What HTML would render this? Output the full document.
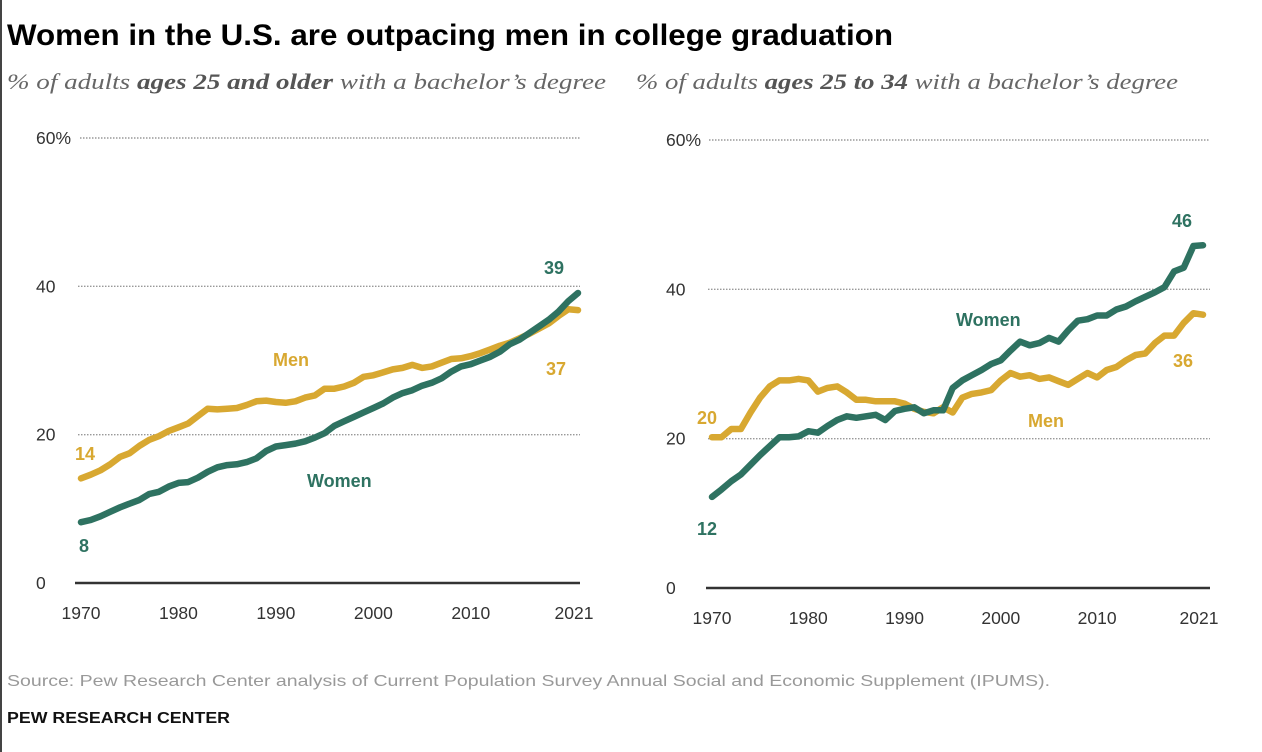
<!DOCTYPE html>
<html><head><meta charset="utf-8"><style>
html,body{margin:0;padding:0;background:#fff;}
body{width:1262px;height:752px;overflow:hidden;position:relative;}
svg{display:block;}
.tick{font-family:"Liberation Sans",sans-serif;font-size:17.5px;fill:#333;}
.lab{font-family:"Liberation Sans",sans-serif;font-size:18px;font-weight:bold;}
</style></head><body>
<svg id="chart" width="1262" height="752" viewBox="0 0 1262 752" xmlns="http://www.w3.org/2000/svg">
<line x1="1" y1="0" x2="1" y2="752" stroke="#444" stroke-width="2"/>
<text x="7" y="45" font-family="'Liberation Sans',sans-serif" font-weight="bold" font-size="30" fill="#000" textLength="886" lengthAdjust="spacingAndGlyphs">Women in the U.S. are outpacing men in college graduation</text>
<text x="7" y="89" font-family="'Liberation Serif',serif" font-style="italic" font-size="22" fill="#666" textLength="599" lengthAdjust="spacingAndGlyphs">% of adults <tspan font-weight="bold" fill="#555">ages 25 and older</tspan> with a bachelor’s degree</text>
<text x="636" y="89" font-family="'Liberation Serif',serif" font-style="italic" font-size="22" fill="#666" textLength="542" lengthAdjust="spacingAndGlyphs">% of adults <tspan font-weight="bold" fill="#555">ages 25 to 34</tspan> with a bachelor’s degree</text>
<g id="left"></g>
<g id="right"></g>
<text x="7" y="686" font-family="'Liberation Sans',sans-serif" font-size="16" fill="#999" textLength="1043" lengthAdjust="spacingAndGlyphs">Source: Pew Research Center analysis of Current Population Survey Annual Social and Economic Supplement (IPUMS).</text>
<text x="7" y="723" font-family="'Liberation Sans',sans-serif" font-weight="bold" font-size="16" fill="#111" textLength="223" lengthAdjust="spacingAndGlyphs">PEW RESEARCH CENTER</text>
</svg>
<script>
const years = Array.from({length:52},(_,i)=>1970+i);
const yTicks = [0,20,40,60];
const xTickLabels = [1970,1980,1990,2000,2010,2021];
const leftMen = [14.1,14.6,15.2,16,17,17.5,18.5,19.3,19.8,20.5,21,21.5,22.5,23.5,23.4,23.5,23.6,24,24.5,24.6,24.4,24.3,24.5,25,25.3,26.2,26.2,26.5,27,27.8,28,28.4,28.8,29,29.4,29,29.2,29.7,30.2,30.3,30.6,31,31.5,32,32.4,33,33.6,34.3,35,36,36.9,36.8];
const leftWomen = [8.2,8.5,9,9.6,10.2,10.7,11.2,12,12.3,13,13.5,13.6,14.2,15,15.6,15.9,16,16.3,16.8,17.8,18.4,18.6,18.8,19.1,19.6,20.2,21.2,21.8,22.4,23,23.6,24.2,25,25.6,26,26.6,27,27.6,28.5,29.2,29.5,30,30.5,31.2,32.2,32.8,33.7,34.6,35.5,36.6,38,39.1];
const rightWomen = [12.2,13.2,14.3,15.2,16.5,17.8,19,20.2,20.2,20.3,21,20.8,21.7,22.5,23,22.8,23,23.2,22.5,23.7,24,24.2,23.4,23.8,23.8,26.8,27.8,28.5,29.2,30,30.5,31.8,33,32.5,32.8,33.5,33,34.5,35.8,36,36.5,36.5,37.3,37.7,38.4,39,39.6,40.3,42.4,42.9,45.8,45.9];
const rightMen = [20.2,20.2,21.3,21.3,23.5,25.5,27,27.8,27.8,28,27.8,26.3,26.8,27,26.2,25.2,25.2,25,25,25,24.7,24,23.6,23.4,24.2,23.5,25.5,26,26.2,26.5,27.8,28.8,28.3,28.5,28,28.2,27.7,27.2,28,28.8,28.2,29.2,29.6,30.5,31.2,31.4,32.8,33.8,33.8,35.5,36.8,36.6];

const NS="http://www.w3.org/2000/svg";
const GREEN="#2e7261", GOLD="#d8a831";
function mk(tag,attrs,parent){const e=document.createElementNS(NS,tag);for(const k in attrs)e.setAttribute(k,attrs[k]);parent.appendChild(e);return e;}

function panel(g,cfg,men,women,labels){
  const x=v=>cfg.x0+(v-1970)*(cfg.x1-cfg.x0)/51;
  const y=v=>cfg.y0-v*(cfg.y0-cfg.y60)/60;
  yTicks.forEach(t=>{
    if(t>0){
      const l=mk('line',{x1:t===60?cfg.g60:cfg.gridStart,x2:cfg.ax1,y1:y(t),y2:y(t),stroke:'#999','stroke-width':1.4,'stroke-dasharray':'1.5 1.5'},g);
      
      
    }
    const tx=mk('text',{x:cfg.labX,y:y(t)+6,class:'tick'},g);
    tx.textContent=t===60?'60%':String(t);
    
    
  });
  const ax=mk('line',{x1:cfg.ax0,x2:cfg.ax1,y1:y(0),y2:y(0),stroke:'#333','stroke-width':2.5},g);
  
  
  xTickLabels.forEach(yr=>{
    const t=mk('text',{x:x(yr)+(yr===2021?-4:0),y:y(0)+36,class:'tick','text-anchor':'middle'},g);
    t.textContent=yr;
    
    
  });
  [[men,GOLD,'men-line'],[women,GREEN,'women-line']].forEach(([d,c,n])=>{
    const p=mk('path',{d:d.map((v,i)=>(i?'L':'M')+x(years[i]).toFixed(1)+' '+y(v).toFixed(1)).join(' '),fill:'none',stroke:c,'stroke-width':6.5,'stroke-linejoin':'round','stroke-linecap':'round'},g);
    
    
  });
  labels.forEach(([txt,lx,ly,c,n])=>{
    const t=mk('text',{x:lx,y:ly,class:'lab',fill:c},g);
    t.textContent=txt;
    
    
  });
}
panel(document.getElementById('left'),{x0:81,x1:578,y0:583,y60:138,gridStart:78,g60:80,ax0:75,ax1:580,labX:36},leftMen,leftWomen,[
  ['Men',273,366,GOLD,'men-series-label'],['Women',307,487,GREEN,'women-series-label'],
  ['14',75,460,GOLD,'men-start-value'],['8',79,552,GREEN,'women-start-value'],
  ['39',544,274,GREEN,'women-end-value'],['37',546,375,GOLD,'men-end-value']]);
panel(document.getElementById('right'),{x0:712,x1:1203,y0:588,y60:140,gridStart:708,g60:709,ax0:706,ax1:1210,labX:666},rightMen,rightWomen,[
  ['Women',956,326,GREEN,'women-series-label'],['Men',1028,427,GOLD,'men-series-label'],
  ['20',697,424,GOLD,'men-start-value'],['12',697,535,GREEN,'women-start-value'],
  ['46',1172,227,GREEN,'women-end-value'],['36',1173,367,GOLD,'men-end-value']]);
</script>
</body></html>
